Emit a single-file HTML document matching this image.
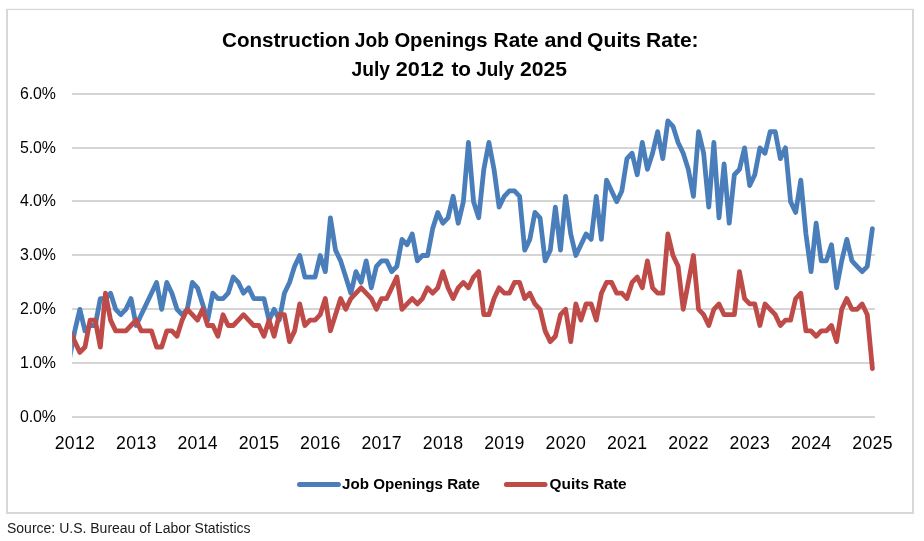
<!DOCTYPE html>
<html lang="en"><head><meta charset="utf-8"><title>Construction Job Openings Rate and Quits Rate</title>
<style>
html,body{margin:0;padding:0;background:#fff;}
body{width:924px;height:541px;overflow:hidden;position:relative;font-family:"Liberation Sans",sans-serif;}
svg{position:absolute;left:0;top:0;display:block;}
text{font-family:"Liberation Sans",sans-serif;fill:#000;}
.title{font-weight:bold;font-size:20.3px;}
.yl text{font-size:15.9px;letter-spacing:-0.15px;}
.xl text{font-size:17.7px;letter-spacing:0.3px;}
.lg{font-weight:bold;font-size:15.2px;}
.src{font-size:14px;fill:#1a1a1a;}
</style></head><body>
<svg width="924" height="541" viewBox="0 0 924 541">
<rect x="0" y="0" width="924" height="541" fill="#fff"/>
<g fill="#d8d8d8"><rect x="6" y="9" width="2" height="505"/><rect x="912" y="9" width="2" height="505"/><rect x="6" y="8.8" width="908" height="1.3"/><rect x="6" y="512" width="908" height="2"/></g>
<g stroke="#d5d5d5" stroke-width="2"><line x1="72.1" x2="874.9" y1="417" y2="417"/><line x1="72.1" x2="874.9" y1="363" y2="363"/><line x1="72.1" x2="874.9" y1="309" y2="309"/><line x1="72.1" x2="874.9" y1="255" y2="255"/><line x1="72.1" x2="874.9" y1="201" y2="201"/><line x1="72.1" x2="874.9" y1="148" y2="148"/><line x1="72.1" x2="874.9" y1="94" y2="94"/></g>
<clipPath id="pa"><rect x="72.2" y="80" width="803" height="345"/></clipPath>
<g clip-path="url(#pa)" fill="none" stroke-width="4.8" stroke-linejoin="round" stroke-linecap="round">
<polyline stroke="#4a7ebb" points="69.65,357.79 74.76,330.87 79.87,309.34 84.99,330.87 90.10,325.49 95.21,325.49 100.33,298.57 105.44,298.57 110.55,293.19 115.66,309.34 120.78,314.72 125.89,309.34 131.00,298.57 136.12,325.49 141.23,314.72 146.34,303.96 151.46,293.19 156.57,282.43 161.68,309.34 166.79,282.43 171.91,293.19 177.02,309.34 182.13,314.72 187.25,309.34 192.36,282.43 197.47,287.81 202.59,303.96 207.70,320.11 212.81,293.19 217.92,298.57 223.04,298.57 228.15,293.19 233.26,277.04 238.38,282.43 243.49,293.19 248.60,287.81 253.72,298.57 258.83,298.57 263.94,298.57 269.05,320.11 274.17,309.34 279.28,320.11 284.39,293.19 289.51,282.43 294.62,266.28 299.73,255.51 304.85,277.04 309.96,277.04 315.07,277.04 320.18,255.51 325.30,271.66 330.41,217.83 335.52,250.13 340.64,260.89 345.75,277.04 350.86,293.19 355.98,271.66 361.09,282.43 366.20,260.89 371.31,287.81 376.43,266.28 381.54,260.89 386.65,260.89 391.77,271.66 396.88,266.28 401.99,239.36 407.11,244.74 412.22,233.98 417.33,260.89 422.44,255.51 427.56,255.51 432.67,228.59 437.78,212.45 442.90,223.21 448.01,217.83 453.12,196.30 458.24,223.21 463.35,201.68 468.46,142.47 473.57,201.68 478.69,217.83 483.80,169.38 488.91,142.47 494.03,169.38 499.14,207.06 504.25,196.30 509.37,190.91 514.48,190.91 519.59,196.30 524.70,250.13 529.82,239.36 534.93,212.45 540.04,217.83 545.16,260.89 550.27,250.13 555.38,207.06 560.50,250.13 565.61,196.30 570.72,233.98 575.83,255.51 580.95,244.74 586.06,233.98 591.17,239.36 596.29,196.30 601.40,239.36 606.51,180.15 611.62,190.91 616.74,201.68 621.85,190.91 626.96,158.62 632.08,153.23 637.19,174.77 642.30,142.47 647.42,169.38 652.53,153.23 657.64,131.70 662.75,158.62 667.87,120.94 672.98,126.32 678.09,142.47 683.21,153.23 688.32,169.38 693.43,196.30 698.55,131.70 703.66,153.23 708.77,207.06 713.88,142.47 719.00,217.83 724.11,164.00 729.22,223.21 734.34,174.77 739.45,169.38 744.56,147.85 749.68,185.53 754.79,174.77 759.90,147.85 765.02,153.23 770.13,131.70 775.24,131.70 780.35,158.62 785.47,147.85 790.58,201.68 795.69,212.45 800.81,180.15 805.92,233.98 811.03,271.66 816.15,223.21 821.26,260.89 826.37,260.89 831.48,244.74 836.60,287.81 841.71,260.89 846.82,239.36 851.94,260.89 857.05,266.28 862.16,271.66 867.28,266.28 872.39,228.59"/>
<polyline stroke="#be4b48" points="69.65,330.87 74.76,341.64 79.87,352.40 84.99,347.02 90.10,320.11 95.21,320.11 100.33,347.02 105.44,293.19 110.55,320.11 115.66,330.87 120.78,330.87 125.89,330.87 131.00,325.49 136.12,320.11 141.23,330.87 146.34,330.87 151.46,330.87 156.57,347.02 161.68,347.02 166.79,330.87 171.91,330.87 177.02,336.25 182.13,320.11 187.25,309.34 192.36,314.72 197.47,320.11 202.59,309.34 207.70,325.49 212.81,325.49 217.92,336.25 223.04,314.72 228.15,325.49 233.26,325.49 238.38,320.11 243.49,314.72 248.60,320.11 253.72,325.49 258.83,325.49 263.94,336.25 269.05,320.11 274.17,336.25 279.28,314.72 284.39,314.72 289.51,341.64 294.62,330.87 299.73,303.96 304.85,325.49 309.96,320.11 315.07,320.11 320.18,314.72 325.30,298.57 330.41,330.87 335.52,314.72 340.64,298.57 345.75,309.34 350.86,298.57 355.98,293.19 361.09,287.81 366.20,293.19 371.31,298.57 376.43,309.34 381.54,298.57 386.65,298.57 391.77,287.81 396.88,277.04 401.99,309.34 407.11,303.96 412.22,298.57 417.33,303.96 422.44,298.57 427.56,287.81 432.67,293.19 437.78,287.81 442.90,271.66 448.01,287.81 453.12,298.57 458.24,287.81 463.35,282.43 468.46,287.81 473.57,277.04 478.69,271.66 483.80,314.72 488.91,314.72 494.03,298.57 499.14,287.81 504.25,293.19 509.37,293.19 514.48,282.43 519.59,282.43 524.70,298.57 529.82,293.19 534.93,303.96 540.04,309.34 545.16,330.87 550.27,341.64 555.38,336.25 560.50,314.72 565.61,309.34 570.72,341.64 575.83,303.96 580.95,320.11 586.06,303.96 591.17,303.96 596.29,320.11 601.40,293.19 606.51,282.43 611.62,282.43 616.74,293.19 621.85,293.19 626.96,298.57 632.08,282.43 637.19,277.04 642.30,287.81 647.42,260.89 652.53,287.81 657.64,293.19 662.75,293.19 667.87,233.98 672.98,255.51 678.09,266.28 683.21,309.34 688.32,282.43 693.43,255.51 698.55,309.34 703.66,314.72 708.77,325.49 713.88,309.34 719.00,303.96 724.11,314.72 729.22,314.72 734.34,314.72 739.45,271.66 744.56,298.57 749.68,303.96 754.79,303.96 759.90,325.49 765.02,303.96 770.13,309.34 775.24,314.72 780.35,325.49 785.47,320.11 790.58,320.11 795.69,298.57 800.81,293.19 805.92,330.87 811.03,330.87 816.15,336.25 821.26,330.87 826.37,330.87 831.48,325.49 836.60,341.64 841.71,309.34 846.82,298.57 851.94,309.34 857.05,309.34 862.16,303.96 867.28,314.72 872.39,368.55"/>
</g>
<text class="title" y="46.8"><tspan x="222.00" textLength="128.16" lengthAdjust="spacingAndGlyphs">Construction</tspan> <tspan x="354.82" textLength="34.09" lengthAdjust="spacingAndGlyphs">Job</tspan> <tspan x="394.39" textLength="93.18" lengthAdjust="spacingAndGlyphs">Openings</tspan> <tspan x="493.63" textLength="45.05" lengthAdjust="spacingAndGlyphs">Rate</tspan> <tspan x="544.41" textLength="38.11" lengthAdjust="spacingAndGlyphs">and</tspan> <tspan x="587.13" textLength="53.87" lengthAdjust="spacingAndGlyphs">Quits</tspan> <tspan x="646.06" textLength="52.56" lengthAdjust="spacingAndGlyphs">Rate:</tspan></text>
<text class="title" y="75.6"><tspan x="351.61" textLength="38.46" lengthAdjust="spacingAndGlyphs">July</tspan> <tspan x="395.83" textLength="48.17" lengthAdjust="spacingAndGlyphs">2012</tspan> <tspan x="451.41" textLength="19.61" lengthAdjust="spacingAndGlyphs">to</tspan> <tspan x="476.16" textLength="37.77" lengthAdjust="spacingAndGlyphs">July</tspan> <tspan x="520.04" textLength="47.06" lengthAdjust="spacingAndGlyphs">2025</tspan></text>
<g class="yl"><text x="55.7" y="422.20" text-anchor="end">0.0%</text><text x="55.7" y="368.20" text-anchor="end">1.0%</text><text x="55.7" y="314.20" text-anchor="end">2.0%</text><text x="55.7" y="260.20" text-anchor="end">3.0%</text><text x="55.7" y="206.20" text-anchor="end">4.0%</text><text x="55.7" y="153.20" text-anchor="end">5.0%</text><text x="55.7" y="99.20" text-anchor="end">6.0%</text></g>
<g class="xl"><text x="74.96" y="448.7" text-anchor="middle">2012</text><text x="136.32" y="448.7" text-anchor="middle">2013</text><text x="197.67" y="448.7" text-anchor="middle">2014</text><text x="259.03" y="448.7" text-anchor="middle">2015</text><text x="320.38" y="448.7" text-anchor="middle">2016</text><text x="381.74" y="448.7" text-anchor="middle">2017</text><text x="443.10" y="448.7" text-anchor="middle">2018</text><text x="504.45" y="448.7" text-anchor="middle">2019</text><text x="565.81" y="448.7" text-anchor="middle">2020</text><text x="627.16" y="448.7" text-anchor="middle">2021</text><text x="688.52" y="448.7" text-anchor="middle">2022</text><text x="749.88" y="448.7" text-anchor="middle">2023</text><text x="811.23" y="448.7" text-anchor="middle">2024</text><text x="872.59" y="448.7" text-anchor="middle">2025</text></g>
<g fill="none" stroke-width="5" stroke-linecap="round">
<line x1="299.5" x2="338.4" y1="484.5" y2="484.5" stroke="#4a7ebb"/>
<line x1="506.4" x2="545" y1="484.5" y2="484.5" stroke="#be4b48"/>
</g>
<text class="lg" x="342" y="489" textLength="138" lengthAdjust="spacingAndGlyphs">Job Openings Rate</text>
<text class="lg" x="549.6" y="489" textLength="77" lengthAdjust="spacingAndGlyphs">Quits Rate</text>
<text class="src" x="7" y="533.1">Source: U.S. Bureau of Labor Statistics</text>
</svg>
</body></html>
